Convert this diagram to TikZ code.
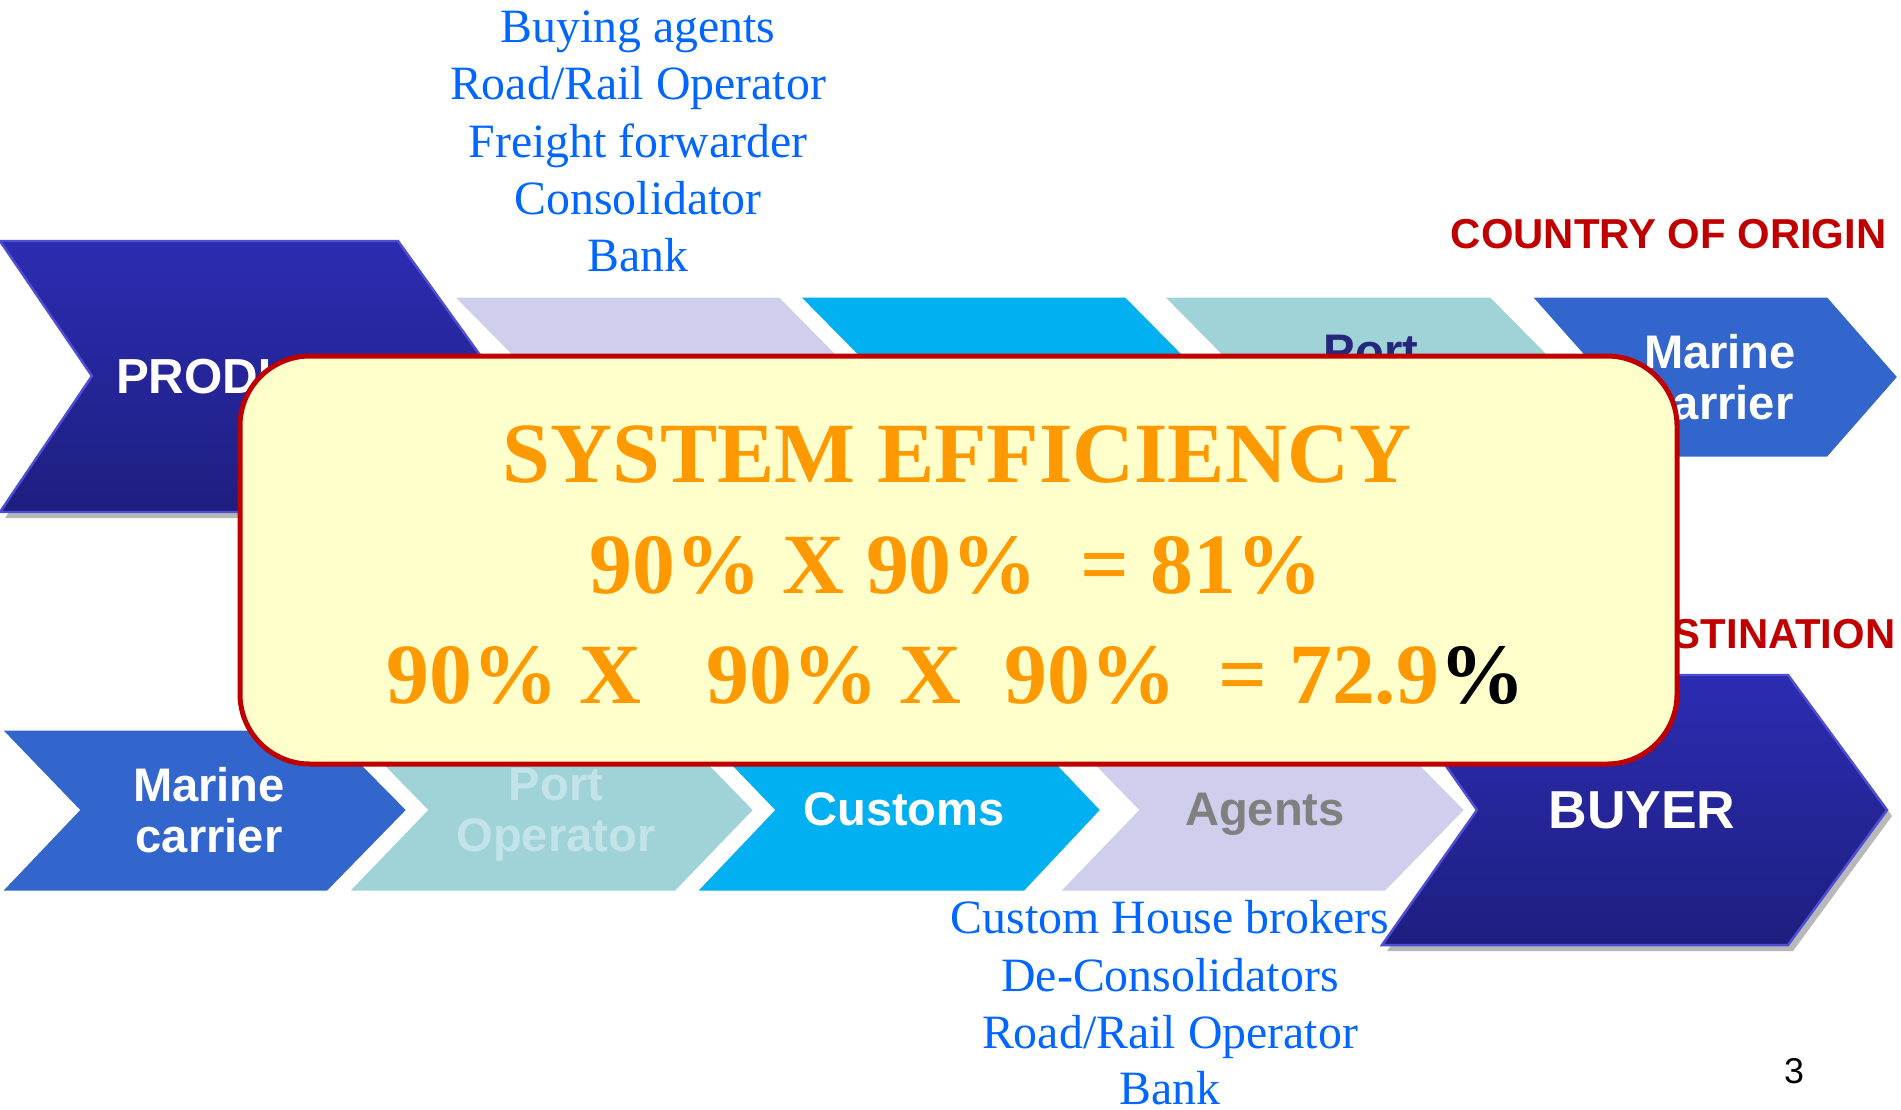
\documentclass[tikz,border=0pt]{standalone}
\usepackage{fontspec}
\setmainfont{Liberation Serif}
\setsansfont{Liberation Sans}
\definecolor{lav}{HTML}{CFCFED}
\definecolor{cyanc}{HTML}{00B0F0}
\definecolor{tealc}{HTML}{A0D3D8}
\definecolor{marine}{HTML}{3366CC}
\definecolor{navytop}{RGB}{44,44,178}
\definecolor{navybot}{RGB}{30,30,128}
\definecolor{navyedge}{RGB}{78,78,212}
\definecolor{boxfill}{HTML}{FFFFCC}
\definecolor{boxred}{HTML}{C00000}
\definecolor{effor}{HTML}{FF9900}
\definecolor{listblue}{HTML}{0066FF}
\definecolor{portnavy}{HTML}{26267A}
\definecolor{portpale}{HTML}{C2E3E7}
\definecolor{agentgray}{HTML}{808080}
\tikzset{
  chev/.style={draw=white, line width=0.85pt, line join=miter},
  bigchev/.style={shade, top color=navytop, bottom color=navybot, draw=navyedge, line width=0.7pt},
  shadowchev/.style={fill=black, opacity=0.28},
  lbl/.style={font=\sffamily\bfseries\fontsize{13.4}{14.5}\selectfont, align=center, inner sep=0pt},
  biglbl/.style={font=\sffamily\bfseries, text=white, anchor=base, inner sep=0pt},
  cty/.style={font=\sffamily\bfseries\fontsize{11.9}{13}\selectfont, text=boxred, anchor=base east, inner sep=0pt},
  blist/.style={font=\fontsize{13.6}{16}\selectfont, text=listblue, anchor=base, inner sep=0pt},
  eff/.style={font=\bfseries\fontsize{24.4}{30}\selectfont, text=effor, anchor=base, inner sep=0pt},
}
\begin{document}
\begin{tikzpicture}[x=0.01cm,y=-0.01cm]
\useasboundingbox (0,0) rectangle (1901,1109);
% ---- top row ----
\path[chev, fill=lav]    (452,296) -- (780,296) -- (860,377) -- (780,458) -- (452,458) -- (532,377) -- cycle;
\path[chev, fill=cyanc]  (798,296) -- (1126,296) -- (1206,377) -- (1126,458) -- (798,458) -- (878,377) -- cycle;
\path[chev, fill=tealc]  (1162,296) -- (1491,296) -- (1571,377) -- (1491,458) -- (1162,458) -- (1242,377) -- cycle;
\path[chev, fill=marine] (1530,296) -- (1828,296) -- (1899,377) -- (1828,458) -- (1530,458) -- (1602,377) -- cycle;
% producer
\begin{scope}[shift={(5,6)}]
\path[shadowchev] (0,241) -- (398,241) -- (495,376) -- (398,512) -- (0,512) -- (92,376) -- cycle;
\end{scope}
\path[bigchev] (0,241) -- (398,241) -- (495,376) -- (398,512) -- (0,512) -- (92,376) -- cycle;
\node[biglbl, font=\sffamily\bfseries\fontsize{14}{16}\selectfont] (prod) at (257,393) {PRODUCER};
\node[lbl, text=portnavy] (portT) at (1371,382) {Port\\Operator};
\node[lbl, text=white] (marT) at (1720,377) {Marine\\carrier};
\node[cty] (origin) at (1887,248) {COUNTRY OF ORIGIN};
\node[cty] (dest) at (1896,648) {COUNTRY OF DESTINATION};
% ---- bottom row ----
\path[chev, fill=marine] (0,729) -- (328,729) -- (408,810) -- (328,892) -- (0,892) -- (78,810) -- cycle;
\path[chev, fill=tealc]  (347,729) -- (676,729) -- (755,810) -- (676,892) -- (347,892) -- (426,810) -- cycle;
\path[chev, fill=cyanc]  (695,729) -- (1025,729) -- (1102,810) -- (1025,892) -- (695,892) -- (773,810) -- cycle;
\path[chev, fill=lav]    (1058,729) -- (1386,729) -- (1466,810) -- (1386,892) -- (1058,892) -- (1137,810) -- cycle;
\begin{scope}[shift={(5,6)}]
\path[shadowchev] (1382,675) -- (1788,675) -- (1887,810) -- (1788,945) -- (1382,945) -- (1477,810) -- cycle;
\end{scope}
\path[bigchev] (1382,675) -- (1788,675) -- (1887,810) -- (1788,945) -- (1382,945) -- (1477,810) -- cycle;
\node[lbl, text=white] (marB) at (209,810) {Marine\\carrier};
\node[lbl, text=portpale] (portB) at (556,815) {Port\\Operator};
\node[biglbl, font=\sffamily\bfseries\fontsize{13.4}{14.5}\selectfont] (cust) at (904,825) {Customs};
\node[biglbl, font=\sffamily\bfseries\fontsize{13.4}{14.5}\selectfont, text=agentgray] (agents) at (1265,825) {Agents};
\node[biglbl, font=\sffamily\bfseries\fontsize{15.2}{17}\selectfont] (buyer) at (1642,828) {BUYER};
% ---- lists ----
\node[blist] (t1) at (638,42) {Buying agents};
\node[blist] (t2) at (638,99) {Road/Rail Operator};
\node[blist] (t3) at (638,157) {Freight forwarder};
\node[blist] (t4) at (638,214) {Consolidator};
\node[blist] (t5) at (638,271) {Bank};
\node[blist] (b1) at (1170,933) {Custom House brokers};
\node[blist] (b2) at (1170,991) {De-Consolidators};
\node[blist] (b3) at (1170,1048) {Road/Rail Operator};
\node[blist] (b4) at (1170,1104) {Bank};
% ---- efficiency box ----
\draw[fill=boxfill, draw=boxred, line width=1.42pt, rounded corners=19.9pt] (240,356) rectangle (1677,764);
\node[eff] (e1) at (957,482) {SYSTEM EFFICIENCY};
\node[eff] (e2) at (956,593) {90\%~X~90\%~~=~81\%};
\node[eff] (e3) at (956,703) {90\%~X~~~90\%~X~~90\%~~=~72.9\textcolor{black}{\%}};
% page number
\node[anchor=base, inner sep=0pt, font=\sffamily\fontsize{10.2}{12}\selectfont] (pg) at (1794,1083) {3};
\end{tikzpicture}
\end{document}
